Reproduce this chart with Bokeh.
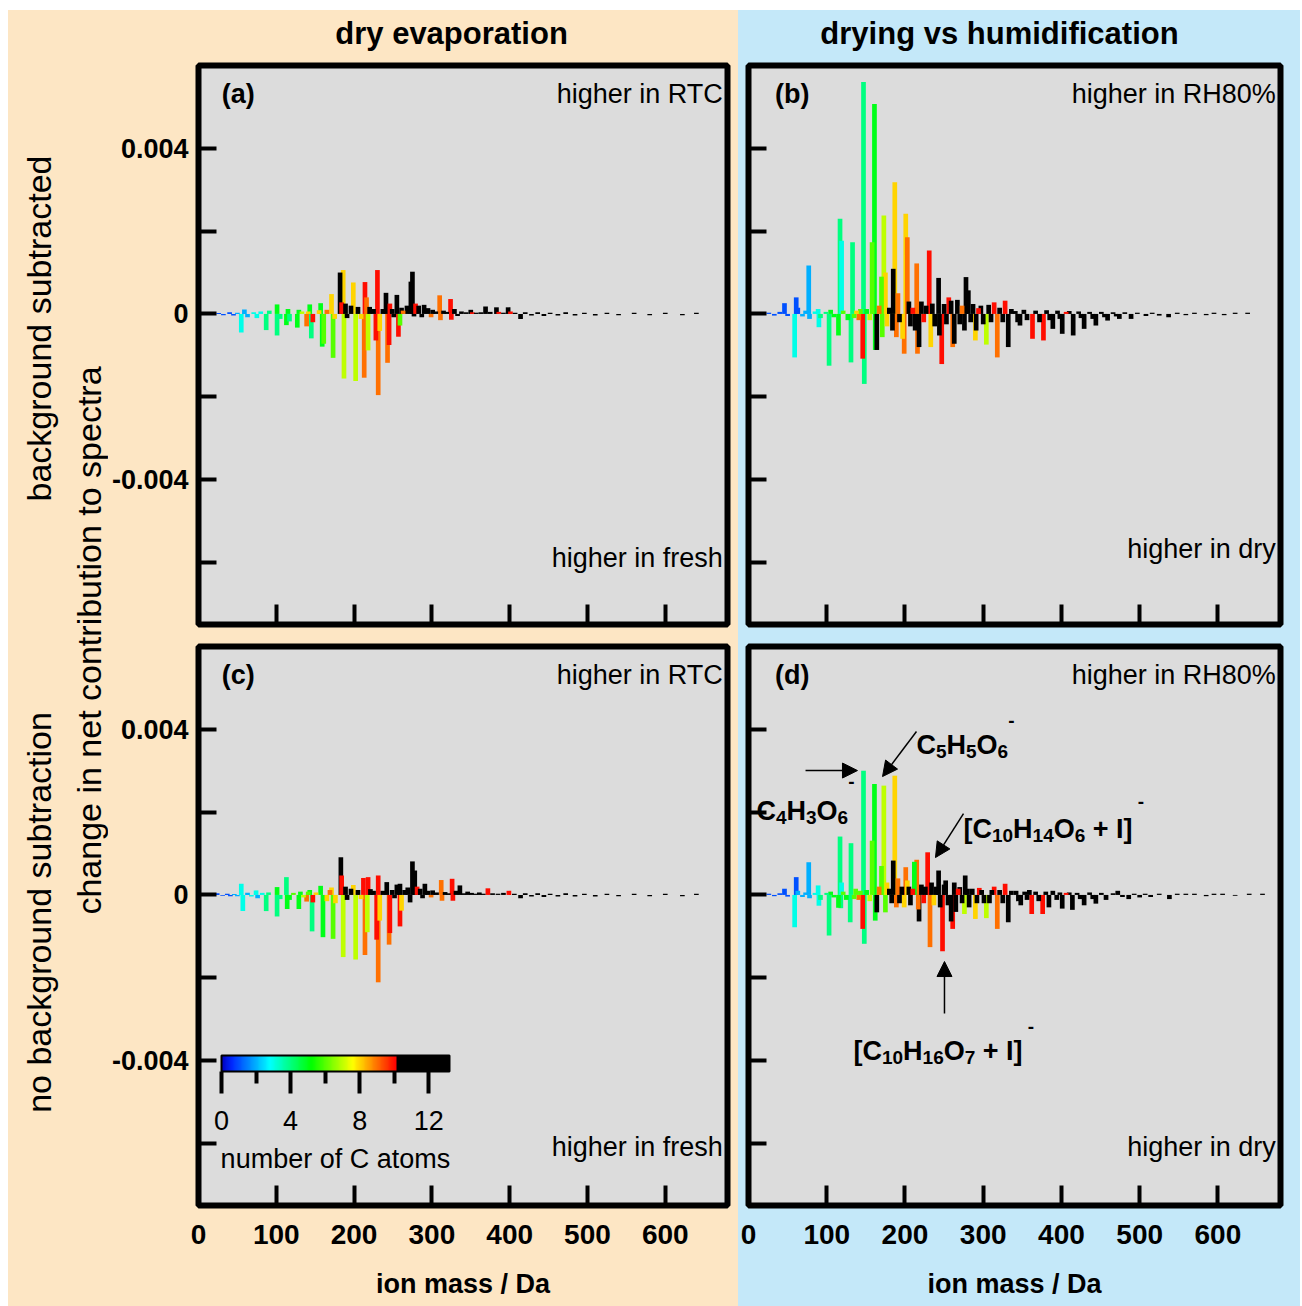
import math
from bokeh.plotting import figure
from bokeh.models import (ColumnDataSource, Range1d, FixedTicker, CustomJSTickFormatter,
                          LinearColorMapper, ColorBar, Label, Arrow, NormalHead, Spacer)
from bokeh.layouts import row, column
from bokeh.transform import transform
from bokeh.embed import file_html
from bokeh.resources import INLINE

FONT = "Liberation Sans"
PEACH = "#FDE6C4"
SKY = "#C4E8F9"
PANEL_BG = "#DCDCDC"

# ---------------- texts / ticks ----------------
COLUMN_TITLES = ["dry evaporation", "drying vs humidification"]
ROW_LABELS = ["background subtracted", "no background subtraction"]
Y_LABEL = "change in net contribution to spectra"
X_LABEL = "ion mass / Da"
PANEL_TAGS = ["(a)", "(b)", "(c)", "(d)"]
UPPER_NOTES = ["higher in RTC", "higher in RH80%", "higher in RTC", "higher in RH80%"]
LOWER_NOTES = ["higher in fresh", "higher in dry", "higher in fresh", "higher in dry"]
X_TICKS = [0, 100, 200, 300, 400, 500, 600]
Y_TICKS = [-0.004, 0.0, 0.004]
Y_MINOR = [-0.006, -0.002, 0.002]
CBAR_TICKS = [0, 4, 8, 12]
CBAR_MINOR = [2, 6, 10]
CBAR_LABEL = "number of C atoms"

# ---------------- data: (ion mass, change, number of C atoms) ----------------
A_BARS = [
    (26, 2e-5, 1), (32, -3e-5, 1), (40, 4e-5, 1), (45, -4e-5, 1), (50, 3e-5, 2),
    (55, -4.5e-4, 3), (59, 1.1e-4, 2), (63, -8e-5, 2), (71, 4e-5, 3), (75, -1.0e-4, 3),
    (80, 6e-5, 3), (87, -3.9e-4, 4), (91, 8e-5, 4), (101, 2.3e-4, 5), (101, -5.2e-4, 4),
    (105, -1.2e-4, 4), (113, -2.7e-4, 5), (115, 1.2e-4, 5), (117, -1.8e-4, 4), (127, -3.3e-4, 5),
    (129, 1.0e-4, 5), (133, 6e-5, 7), (139, -3.0e-4, 9), (141, 6e-5, 8), (143, 2.3e-4, 5),
    (145, -5.9e-4, 4), (147, -2.0e-4, 10), (155, 9e-5, 8), (157, 2.6e-4, 5), (159, -7.9e-4, 5),
    (161, -7.2e-4, 6), (165, 1.0e-4, 9), (171, 4.8e-4, 8), (173, -1.06e-3, 6), (175, -1.2e-4, 8),
    (182, 1.0e-3, 11), (184, 2.8e-4, 10), (186, 1.06e-3, 8), (187, -1.56e-3, 7), (189, 2.5e-4, 11),
    (191, -1.0e-4, 11), (196, 2.0e-4, 11), (199, 7.6e-4, 8), (202, -1.62e-3, 7), (205, 1.7e-4, 11),
    (209, -1.2e-4, 8), (213, -1.54e-3, 9), (214, 7.7e-4, 10), (216, 4.0e-4, 9), (218, -8.8e-4, 7),
    (220, 1.7e-4, 11), (225, 1.2e-4, 11), (228, -6.4e-4, 10), (230, 1.06e-3, 10), (231, -1.96e-3, 9),
    (233, -4.1e-4, 8), (237, 1.2e-4, 11), (241, 5.1e-4, 11), (243, -1.18e-3, 9), (245, -7.5e-4, 10),
    (246, 2.5e-4, 10), (249, 1.2e-4, 11), (251, -8e-5, 11), (255, 4.6e-4, 11), (257, -5.5e-4, 10),
    (259, -2.8e-4, 6), (261, 1.5e-4, 11), (263, 8e-5, 9), (268, 2.0e-4, 11), (273, 7.8e-4, 11),
    (275, 1.02e-3, 11), (277, -6e-5, 11), (279, 2.5e-4, 10), (283, 2.0e-4, 11), (287, -8e-5, 11),
    (290, 2.2e-4, 11), (295, 1.4e-4, 11), (299, -8e-5, 9), (301, 1.0e-4, 11), (305, 6e-5, 11),
    (310, 4.5e-4, 9), (311, -1.5e-4, 9), (315, 8e-5, 11), (319, 5e-5, 11), (324, 3.6e-4, 10),
    (325, -1.4e-4, 10), (329, 1.2e-4, 11), (333, -5e-5, 11), (338, 6e-5, 11), (344, 4e-5, 11),
    (350, 1.0e-4, 11), (352, 4e-5, 10), (357, 3e-5, 11), (363, 4e-5, 11), (369, 1.8e-4, 11),
    (375, 5e-5, 11), (383, 1.6e-4, 11), (386, 5e-5, 10), (392, 3e-5, 11), (398, 1.6e-4, 11),
    (401, 6e-5, 10), (407, 3e-5, 11), (414, -1.2e-4, 11), (420, 4e-5, 12), (428, -4e-5, 12),
    (436, 4e-5, 12), (444, -5e-5, 12), (452, 3e-5, 12), (462, -4e-5, 12), (472, 4e-5, 13),
    (484, -4e-5, 13), (496, 3e-5, 13), (510, -4e-5, 13), (525, 3e-5, 13), (540, -3e-5, 13),
    (560, 3e-5, 14), (580, -3e-5, 14), (600, 3e-5, 14), (622, -3e-5, 14), (640, 3e-5, 15),
]

B_BARS = [
    (26, 3e-5, 1), (33, -4e-5, 1), (40, 5e-5, 1), (46, 2.6e-4, 1), (50, -5e-5, 1),
    (59, -1.05e-3, 3), (61, 4.0e-4, 1), (63, 1.5e-4, 1), (69, -6e-5, 2), (73, 8e-5, 2),
    (77, 1.17e-3, 2), (78, -1.2e-4, 2), (85, 6e-5, 3), (89, 1.2e-4, 3), (90, -3.2e-4, 3),
    (92, -1.0e-4, 4), (99, 5e-5, 4), (103, -1.25e-3, 4), (105, 1.0e-4, 5), (109, -8e-5, 5),
    (115, -5.2e-4, 5), (117, 2.3e-3, 4), (119, 1.77e-3, 3), (121, 8e-5, 6), (127, -1.5e-4, 5),
    (131, -1.17e-3, 4), (133, 1.73e-3, 4), (135, -1.0e-4, 6), (138, 8e-5, 8), (141, -1.5e-4, 9),
    (143, 1.2e-4, 6), (146, -1.08e-3, 10), (147, 5.6e-3, 4), (148, -1.69e-3, 4), (151, 1.2e-4, 5),
    (155, -1.5e-4, 7), (158, 1.73e-3, 6), (161, 5.07e-3, 5), (162, -8.7e-4, 5), (164, -8.7e-4, 11),
    (167, 2.0e-4, 9), (170, 9.0e-4, 6), (171, -5.6e-4, 6), (173, 2.38e-3, 7), (175, 1.0e-3, 8),
    (177, -3.0e-4, 8), (180, 1.5e-4, 11), (184, -4.0e-4, 11), (185, 1.09e-3, 11), (187, 3.18e-3, 8),
    (189, -5.6e-4, 9), (191, 5.0e-4, 9), (193, -2.0e-4, 11), (197, -6.0e-4, 8), (199, -9.6e-4, 9),
    (201, 2.42e-3, 8), (203, 1.85e-3, 9), (205, 3.0e-4, 11), (207, -3.0e-4, 11), (210, 1.5e-4, 10),
    (213, -4.0e-4, 11), (215, 1.22e-3, 9), (216, -9.6e-4, 9), (218, -8.0e-4, 11), (221, 3.0e-4, 11),
    (224, -2.0e-4, 10), (227, 2.0e-4, 11), (231, 1.53e-3, 10), (233, -8.0e-4, 8), (235, 2.5e-4, 11),
    (238, -3.0e-4, 11), (243, 8.7e-4, 11), (244, -5.2e-4, 11), (247, -1.21e-3, 10), (250, 2.4e-4, 11),
    (253, -2.5e-4, 11), (256, 4.0e-4, 10), (259, 3.2e-4, 11), (261, -8.0e-4, 9), (263, -7.2e-4, 11),
    (267, 3.4e-4, 11), (270, -2.5e-4, 11), (273, 2.0e-4, 9), (276, -4.0e-4, 11), (278, 8.9e-4, 11),
    (281, 5.7e-4, 11), (284, -2.0e-4, 11), (287, 2.4e-4, 11), (290, -6.4e-4, 8), (291, -4.0e-4, 11),
    (294, 1.4e-4, 10), (297, 2.0e-4, 11), (300, -2.5e-4, 11), (304, -7.4e-4, 7), (307, 2.2e-4, 11),
    (310, -2.0e-4, 11), (314, 2.8e-4, 10), (318, -1.05e-3, 9), (321, 1.5e-4, 11), (325, -2.0e-4, 11),
    (328, 3.2e-4, 10), (332, -8.0e-4, 11), (336, 1.2e-4, 11), (341, 7e-5, 11), (344, -2.0e-4, 11),
    (347, -2.8e-4, 11), (352, 1.0e-4, 11), (356, -1.5e-4, 11), (363, -6.0e-4, 10), (367, 8e-5, 11),
    (372, -2.0e-4, 11), (377, -6.4e-4, 10), (381, 9e-5, 11), (385, -1.5e-4, 11), (389, -3.6e-4, 11),
    (395, 8e-5, 11), (398, -1.2e-4, 11), (401, -4.8e-4, 11), (406, 5e-5, 10), (410, 7e-5, 11),
    (415, -5.2e-4, 11), (422, 6e-5, 12), (425, -1.0e-4, 12), (429, -3.6e-4, 11), (436, 5e-5, 12),
    (440, -1.2e-4, 12), (444, -2.8e-4, 12), (451, 5e-5, 12), (455, -8e-5, 12), (459, -1.6e-4, 12),
    (466, 4e-5, 12), (470, -6e-5, 12), (474, -1.2e-4, 12), (481, 4e-5, 12), (489, -1.2e-4, 12),
    (497, 3e-5, 12), (508, -5e-5, 12), (516, 3e-5, 13), (525, -4e-5, 13), (537, -8e-5, 13),
    (548, 3e-5, 13), (559, -3e-5, 13), (570, 3e-5, 13), (585, -3e-5, 13), (595, 3e-5, 14),
    (608, -3e-5, 14), (622, 3e-5, 14), (638, 3e-5, 14),
]

C_BARS = [
    (24, 4e-5, 1), (31, -2e-5, 1), (37, 3e-5, 1), (41, -3e-5, 1), (46, 2e-5, 2),
    (50, -3e-5, 2), (55, 2.7e-4, 3), (57, -3.9e-4, 3), (63, 5e-5, 2), (68, -4e-5, 3),
    (74, 1.1e-4, 3), (76, -8e-5, 2), (82, 5e-5, 3), (87, -3.9e-4, 4), (90, 6e-5, 4),
    (101, 1.9e-4, 5), (101, -5.2e-4, 4), (105, -1.0e-4, 4), (113, 4.3e-4, 4), (114, -3.4e-4, 5),
    (117, -1.2e-4, 5), (122, 5e-5, 6), (129, -3.4e-4, 5), (131, 8e-5, 5), (135, -6e-5, 7),
    (139, -1.6e-4, 9), (141, 8e-5, 6), (143, 1.2e-4, 5), (146, -8.8e-4, 4), (147, -1.8e-4, 10),
    (151, 6e-5, 8), (157, 2.2e-4, 5), (160, -1.02e-3, 5), (165, -1.5e-4, 8), (169, 1.2e-4, 9),
    (171, 1.8e-4, 8), (173, -1.06e-3, 6), (176, -2.0e-4, 8), (183, 9.1e-4, 11), (184, 4.7e-4, 10),
    (186, -1.5e-3, 7), (189, 2.0e-4, 11), (191, -1.2e-4, 11), (196, 1.5e-4, 11), (199, 2.4e-4, 8),
    (202, -1.56e-3, 7), (205, 1.2e-4, 11), (209, -1.0e-4, 8), (212, 4.1e-4, 10), (214, -1.45e-3, 9),
    (217, -9.0e-4, 7), (218, 4.3e-4, 10), (221, 1.4e-4, 11), (225, 1.0e-4, 11), (229, -1.08e-3, 10),
    (231, 4.7e-4, 10), (231, -2.11e-3, 9), (233, -6.2e-4, 8), (237, 1.0e-4, 11), (242, 3.1e-4, 11),
    (245, -1.2e-3, 9), (246, -9.2e-4, 10), (249, 1.2e-4, 11), (252, -8e-5, 11), (255, 2.5e-4, 11),
    (259, -7.6e-4, 10), (259, 2.7e-4, 11), (261, -3.8e-4, 8), (265, 1.2e-4, 11), (269, 1.8e-4, 11),
    (272, -1.8e-4, 11), (275, 8.1e-4, 11), (278, 5.9e-4, 11), (281, 2.0e-4, 10), (285, 1.5e-4, 11),
    (288, -8e-5, 11), (291, 2.7e-4, 11), (295, 1.0e-4, 11), (299, -6e-5, 9), (301, 1.1e-4, 11),
    (306, 6e-5, 11), (312, 3.6e-4, 9), (313, -1.4e-4, 9), (317, 7e-5, 11), (321, 4e-5, 11),
    (326, 3.9e-4, 10), (327, -1.4e-4, 10), (331, 1.0e-4, 11), (336, 2.3e-4, 11), (341, 4e-5, 11),
    (346, 8e-5, 11), (351, 5e-5, 11), (356, 3e-5, 11), (361, 6e-5, 11), (366, 3e-5, 11),
    (372, 1.6e-4, 10), (378, 4e-5, 11), (385, 3e-5, 11), (392, 5e-5, 11), (399, 1.0e-4, 10),
    (406, 3e-5, 11), (414, -8e-5, 11), (420, 4e-5, 12), (428, -4e-5, 12), (436, 4e-5, 12),
    (444, -5e-5, 12), (452, 3e-5, 12), (462, -4e-5, 12), (472, 4e-5, 13), (484, -4e-5, 13),
    (496, 3e-5, 13), (510, -4e-5, 13), (525, 3e-5, 13), (540, -3e-5, 13), (560, 3e-5, 14),
    (580, -3e-5, 14), (600, 3e-5, 14), (622, -3e-5, 14), (640, 3e-5, 15),
]

D_BARS = [
    (26, 3e-5, 1), (33, -3e-5, 1), (40, 4e-5, 1), (46, 1.5e-4, 1), (50, -4e-5, 1),
    (59, -7.8e-4, 3), (61, 4.3e-4, 1), (63, 1.0e-4, 2), (69, -5e-5, 2), (73, 6e-5, 2),
    (77, 7.9e-4, 2), (78, -8e-5, 2), (85, 5e-5, 3), (89, 2.3e-4, 3), (90, -2.6e-4, 3),
    (92, -1.2e-4, 4), (100, 5e-5, 4), (103, -9.8e-4, 4), (105, 8e-5, 5), (109, -6e-5, 5),
    (115, -3.1e-4, 5), (117, 1.41e-3, 4), (118, -3.2e-4, 4), (119, 3.0e-4, 3), (121, 8e-5, 6),
    (125, -1.2e-4, 5), (130, -6.6e-4, 4), (131, 1.25e-3, 4), (135, -1.0e-4, 6), (137, 1.5e-4, 6),
    (141, -1.2e-4, 9), (143, 1.0e-4, 6), (146, -8.2e-4, 10), (147, 3.0e-3, 4), (148, -1.18e-3, 4),
    (151, 1.2e-4, 5), (155, -1.5e-4, 7), (158, 1.31e-3, 6), (161, 2.68e-3, 5), (162, -6.2e-4, 5),
    (164, -4.2e-4, 11), (167, 2.0e-4, 9), (170, 7.0e-4, 6), (173, 2.64e-3, 7), (175, -4.2e-4, 6),
    (177, 3.0e-4, 8), (180, 1.5e-4, 11), (183, -2.0e-4, 11), (185, 8.3e-4, 11), (187, 2.88e-3, 8),
    (189, -3.0e-4, 9), (191, 4.0e-4, 9), (193, -2.0e-4, 11), (196, 2.0e-4, 11), (199, -3.0e-4, 8),
    (201, 6.7e-4, 9), (203, 3.5e-4, 8), (205, 2.0e-4, 11), (207, -2.5e-4, 11), (210, 1.5e-4, 10),
    (212, 8.0e-4, 5), (215, 8.5e-4, 9), (217, -3.5e-4, 9), (218, -6.4e-4, 11), (221, 2.5e-4, 11),
    (224, -2.0e-4, 10), (226, 2.0e-4, 11), (229, 1.03e-3, 10), (232, -1.26e-3, 9), (234, 3.0e-4, 11),
    (237, -2.5e-4, 8), (240, 2.0e-4, 11), (243, 5.9e-4, 11), (245, -3.0e-4, 11), (248, -1.36e-3, 10),
    (250, 2.5e-4, 11), (252, 3.5e-4, 11), (255, -2.5e-4, 11), (259, -6.4e-4, 11), (261, -8.2e-4, 10),
    (263, 3.0e-4, 11), (265, -4.1e-4, 11), (268, 1.5e-4, 10), (270, 1.9e-4, 11), (273, -2.0e-4, 11),
    (276, -4.6e-4, 7), (277, 4.7e-4, 11), (280, 1.5e-4, 11), (282, -3.0e-4, 11), (286, 1.5e-4, 11),
    (290, -5.8e-4, 8), (292, -2.0e-4, 11), (295, 1.7e-4, 10), (298, 1.2e-4, 11), (301, -2.0e-4, 11),
    (304, -5.6e-4, 7), (308, -2.0e-4, 11), (311, 1.2e-4, 11), (314, 2.0e-4, 10), (318, -8.2e-4, 9),
    (321, 1.2e-4, 11), (325, -2.0e-4, 11), (328, 2.7e-4, 10), (332, -6.6e-4, 11), (336, 1.0e-4, 11),
    (342, 1.0e-4, 11), (345, -1.5e-4, 11), (348, -2.5e-4, 11), (353, 8e-5, 11), (356, -1.2e-4, 11),
    (359, 1.2e-4, 11), (362, -4.6e-4, 10), (367, 8e-5, 11), (371, -1.5e-4, 11), (376, -4.6e-4, 10),
    (380, 8e-5, 11), (384, -3.0e-4, 11), (389, 1.0e-4, 11), (394, -1.2e-4, 11), (398, 6e-5, 11),
    (401, -3.3e-4, 11), (406, 5e-5, 10), (410, 6e-5, 11), (414, -3.6e-4, 11), (420, 5e-5, 12),
    (424, -1.0e-4, 12), (429, -2.5e-4, 11), (436, 6e-5, 12), (440, -1.0e-4, 12), (444, -2.1e-4, 12),
    (451, 5e-5, 12), (457, -1.2e-4, 12), (466, 4e-5, 12), (472, 1.0e-4, 12), (478, -5e-5, 12),
    (486, -1.0e-4, 12), (493, 3e-5, 12), (500, -6e-5, 12), (507, 3e-5, 13), (514, -5e-5, 13),
    (525, 3e-5, 13), (538, -1.0e-4, 13), (548, 3e-5, 13), (559, 3e-5, 13), (570, 3e-5, 13),
    (585, -3e-5, 13), (595, 3e-5, 14), (606, 3e-5, 14), (622, -2e-5, 14), (640, 3e-5, 14),
    (657, 3e-5, 15),
]

# ---------------- colour map (rainbow to C10, black above) ----------------
CMAP_ANCHORS = [(0.0, (0, 0, 190)), (0.6, (0, 40, 255)), (2.8, (0, 255, 255)),
                (5.2, (0, 255, 0)), (7.6, (255, 255, 0)), (10.1, (255, 0, 0))]
C_LOW, C_HIGH = 0.0, 13.2


def rainbow(v):
    if v > 10.12:
        return "#000000"
    for (v0, c0), (v1, c1) in zip(CMAP_ANCHORS[:-1], CMAP_ANCHORS[1:]):
        if v <= v1:
            t = max(0.0, (v - v0) / (v1 - v0))
            r, g, b = (int(round(a + (bb - a) * t)) for a, bb in zip(c0, c1))
            return "#%02x%02x%02x" % (r, g, b)
    return "#ff0000"


PALETTE = [rainbow(C_LOW + (i + 0.5) * (C_HIGH - C_LOW) / 256) for i in range(256)]
mapper = LinearColorMapper(palette=PALETTE, low=C_LOW, high=C_HIGH)

X_RANGE = (0, 680)
Y_RANGE = (-0.0075, 0.006)
FRAME_W, FRAME_H = 532, 559
PX_PER_MASS = FRAME_W / (X_RANGE[1] - X_RANGE[0])
PX_PER_VAL = FRAME_H / (Y_RANGE[1] - Y_RANGE[0])
BAR_WIDTH = 6


def text_label(p, x, y, text, size="27px", style="normal", align="left", baseline="middle", angle=0.0):
    p.add_layout(Label(x=x, y=y, text=text, text_font=FONT, text_font_size=size,
                       text_font_style=style, text_align=align, text_baseline=baseline,
                       text_color="black", angle=angle))


def make_panel(bars, idx, left_col, top_row):
    width = 630 if left_col else 562
    height = 575 if top_row else 671
    p = figure(width=width, height=height, x_range=Range1d(*X_RANGE), y_range=Range1d(*Y_RANGE),
               output_backend="svg", toolbar_location=None, title=None,
               min_border_left=87 if left_col else 10, min_border_right=11 if left_col else 20,
               min_border_top=5 if top_row else 11, min_border_bottom=11 if top_row else 101,
               background_fill_color=PANEL_BG, border_fill_color=PEACH if left_col else SKY,
               outline_line_color="black", outline_line_width=6)
    p.grid.visible = False

    order = sorted(range(len(bars)), key=lambda i: -abs(bars[i][1]))
    src = ColumnDataSource(dict(mass=[bars[i][0] for i in order],
                                value=[bars[i][1] for i in order],
                                nc=[bars[i][2] for i in order]))
    p.vbar(x="mass", top="value", bottom=0, width=BAR_WIDTH, source=src,
           fill_color=transform("nc", mapper), line_color=None)

    xa = p.xaxis[0]
    xa.ticker = FixedTicker(ticks=X_TICKS, minor_ticks=[])
    xa.major_tick_in = 20
    xa.major_tick_out = 0
    xa.minor_tick_in = 0
    xa.minor_tick_out = 0
    xa.major_tick_line_width = 4
    xa.major_tick_line_color = "black"
    xa.axis_line_color = None
    if top_row:
        xa.formatter = CustomJSTickFormatter(code="return '';")
        xa.major_label_text_font_size = "1px"
        xa.major_label_standoff = 0
    else:
        xa.major_label_text_font = FONT
        xa.major_label_text_font_size = "28px"
        xa.major_label_text_font_style = "bold"
        xa.major_label_text_color = "black"
        xa.major_label_standoff = 19
        xa.axis_label = X_LABEL
        xa.axis_label_text_font = FONT
        xa.axis_label_text_font_size = "27px"
        xa.axis_label_text_font_style = "bold"
        xa.axis_label_text_color = "black"
        xa.axis_label_standoff = 22

    ya = p.yaxis[0]
    ya.ticker = FixedTicker(ticks=Y_TICKS, minor_ticks=Y_MINOR)
    ya.major_tick_in = 18
    ya.major_tick_out = 0
    ya.minor_tick_in = 18
    ya.minor_tick_out = 0
    ya.major_tick_line_width = 4
    ya.minor_tick_line_width = 4
    ya.major_tick_line_color = "black"
    ya.minor_tick_line_color = "black"
    ya.axis_line_color = None
    if left_col:
        ya.formatter = CustomJSTickFormatter(code="return tick == 0 ? '0' : tick.toFixed(3);")
        ya.major_label_text_font = FONT
        ya.major_label_text_font_size = "27px"
        ya.major_label_text_font_style = "bold"
        ya.major_label_text_color = "black"
        ya.major_label_standoff = 10
    else:
        ya.formatter = CustomJSTickFormatter(code="return '';")
        ya.major_label_text_font_size = "1px"
        ya.major_label_standoff = 0

    tag_x = 30 if left_col else 34
    text_label(p, tag_x, 0.00531, PANEL_TAGS[idx], style="bold")
    text_label(p, 674, 0.0053, UPPER_NOTES[idx], align="right")
    low_y = {0: -0.0059, 1: -0.00567, 2: -0.00608, 3: -0.00608}[idx]
    text_label(p, 674, low_y, LOWER_NOTES[idx], align="right")
    return p


pa = make_panel(A_BARS, 0, True, True)
pb = make_panel(B_BARS, 1, False, True)
pc = make_panel(C_BARS, 2, True, False)
pd = make_panel(D_BARS, 3, False, False)

# ---------------- colour bar in (c) ----------------
cbar = ColorBar(color_mapper=mapper, orientation="horizontal", width=228, height=16,
                location=(23, 73), ticker=FixedTicker(ticks=CBAR_TICKS, minor_ticks=CBAR_MINOR),
                major_label_text_font=FONT, major_label_text_font_size="27px",
                major_label_text_color="black",
                major_tick_in=0, major_tick_out=22, minor_tick_in=0, minor_tick_out=12,
                major_tick_line_color="black", major_tick_line_width=4,
                minor_tick_line_color="black", minor_tick_line_width=4,
                bar_line_color="black", bar_line_width=2,
                background_fill_alpha=0, border_line_color=None,
                padding=0, margin=0, label_standoff=17, title=None)
pc.add_layout(cbar)
text_label(pc, 176, -0.00637, CBAR_LABEL, align="center")

# ---------------- formula annotations in (d) ----------------
GLYPH_W = {"C": 0.722, "H": 0.722, "O": 0.778, "I": 0.278, "[": 0.333, "]": 0.333,
           "+": 0.584, " ": 0.278, "-": 0.333}


def add_formula(p, x, y, parts, sup_dy=21):
    off = 0.0
    for text, kind in parts:
        size = 27 if kind == "n" else 19
        dy = {"n": 0, "sub": -7, "sup": sup_dy}[kind]
        lead = len(text) - len(text.lstrip(" "))
        off += lead * GLYPH_W[" "] * size
        core = text.strip(" ")
        text_label(p, x + off / PX_PER_MASS, y + dy / PX_PER_VAL, core,
                   size="%dpx" % size, style="bold", baseline="alphabetic")
        off += sum(GLYPH_W.get(ch, 0.556) for ch in text.lstrip(" ")) * size


add_formula(pd, 214.7, 0.003632,
            [("C", "n"), ("5", "sub"), ("H", "n"), ("5", "sub"), ("O", "n"), ("6", "sub"), ("-", "sup")],
            sup_dy=24)
add_formula(pd, 10.2, 0.002038,
            [("C", "n"), ("4", "sub"), ("H", "n"), ("3", "sub"), ("O", "n"), ("6", "sub"), ("-", "sup")],
            sup_dy=29)
add_formula(pd, 274.8, 0.0016,
            [("[C", "n"), ("10", "sub"), ("H", "n"), ("14", "sub"), ("O", "n"), ("6", "sub"),
             (" + I]", "n"), (" -", "sup")], sup_dy=27)
add_formula(pd, 134.2, -0.003758,
            [("[C", "n"), ("10", "sub"), ("H", "n"), ("16", "sub"), ("O", "n"), ("7", "sub"),
             (" + I]", "n"), (" -", "sup")], sup_dy=24)

ARROWS = [(72.9, 0.003004, 139.3, 0.003004),
          (214.7, 0.003946, 171.3, 0.002859),
          (274.8, 0.001966, 239.0, 0.000903),
          (250.5, -0.002864, 250.5, -0.001608)]
for xs, ys, xe, ye in ARROWS:
    pd.add_layout(Arrow(end=NormalHead(size=15, fill_color="black", line_color="black", line_width=1),
                        x_start=xs, y_start=ys, x_end=xe, y_end=ye,
                        line_color="black", line_width=1.5))

# ---------------- side label strip and title strips ----------------
side = figure(width=100, height=1296, x_range=Range1d(8, 108), y_range=Range1d(1306, 10),
              output_backend="svg", toolbar_location=None, title=None,
              x_axis_location=None, y_axis_location=None, min_border=0,
              background_fill_color=PEACH, border_fill_color=PEACH, outline_line_color=None)
side.grid.visible = False
text_label(side, 38, 328, ROW_LABELS[0], size="34px", align="center", angle=math.pi / 2)
text_label(side, 88, 640, Y_LABEL, size="34px", align="center", angle=math.pi / 2)
text_label(side, 38, 912, ROW_LABELS[1], size="34px", align="center", angle=math.pi / 2)


def title_strip(width, x0, x1, bg, text, cx):
    # the column aligns this strip's frame with the panel frame below it (x0..x1 in page px)
    t = figure(width=width, height=50, x_range=Range1d(x0, x1), y_range=Range1d(60, 10),
               output_backend="svg", toolbar_location=None, title=None,
               x_axis_location=None, y_axis_location=None, min_border=0,
               background_fill_color=bg, border_fill_color=bg, outline_line_color=None)
    t.grid.visible = False
    text_label(t, cx, 33, text, size="31px", style="bold", align="center")
    return t


tl = title_strip(630, 195, 727, PEACH, COLUMN_TITLES[0], 449.5)
tr = title_strip(562, 748, 1280, SKY, COLUMN_TITLES[1], 999)

left_col = column(tl, pa, pc, styles={"background-color": PEACH})
right_col = column(tr, pb, pd, styles={"background-color": SKY})
body = row(Spacer(width=8, height=1296, styles={"background-color": "white"}),
           side, left_col, right_col, styles={"background-color": PEACH})
layout = column(Spacer(width=1300, height=10, styles={"background-color": "white"}), body)

with open("out.html", "w") as f:
    f.write(file_html(layout, INLINE))
